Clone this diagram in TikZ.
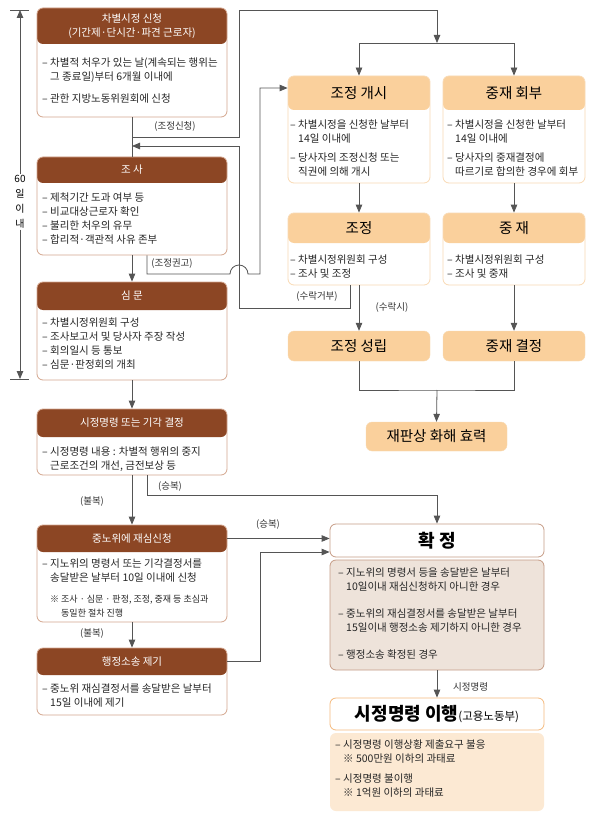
\documentclass[tikz,border=0pt]{standalone}
\usepackage{fontspec}
\setmainfont{Noto Sans CJK KR}
\usetikzlibrary{arrows.meta,calc}

\definecolor{hbrown}{RGB}{140,70,36}
\definecolor{bline}{RGB}{212,166,142}
\definecolor{ohead}{RGB}{250,208,156}
\definecolor{oline}{RGB}{249,218,180}
\definecolor{tanfill}{RGB}{238,227,218}
\definecolor{tanline}{RGB}{198,156,134}
\definecolor{iline}{RGB}{245,186,125}
\definecolor{ifill}{RGB}{252,233,211}
\definecolor{lgray}{RGB}{85,85,85}

\tikzset{
  conn/.style={draw=lgray, line width=0.8pt},
  arr/.style={conn, -{Triangle[length=8pt,width=6.5pt]}},
  bbox/.style={draw=bline, line width=0.8pt, fill=white, rounded corners=6pt,
    minimum width=190pt, inner sep=0pt,
    path picture={\fill[hbrown] (path picture bounding box.north west)
      rectangle ([yshift=-#1]path picture bounding box.north east);}},
  obox/.style={draw=oline, line width=0.8pt, fill=white, rounded corners=6pt,
    minimum width=142pt, inner sep=0pt,
    path picture={\fill[ohead] (path picture bounding box.north west)
      rectangle ([yshift=-#1]path picture bounding box.north east);}},
  ofull/.style={draw=oline, fill=ohead, rounded corners=6pt, minimum width=142pt,
    inner sep=0pt, font=\fontsize{14.5}{16}\selectfont},
  htxt/.style={text=white, align=center, font=\fontsize{10.5}{14.5}\selectfont},
  ohtxt/.style={font=\fontsize{14.5}{16}\selectfont},
  body/.style={anchor=north west, align=left, inner sep=0pt,
    font=\fontsize{10.5}{14}\selectfont, text=black!85},
  lbl/.style={font=\fontsize{9.5}{10}\selectfont, text=black!80, inner sep=1pt},
}

\begin{document}
\begin{tikzpicture}[x=1pt,y=-1pt]
\path[fill=white, use as bounding box] (0,0) rectangle (589,813);

% left column
\node[bbox=36pt, minimum height=109pt] (sin) at (132,62.5) {};
\node[htxt] (sinH) at (132,26) {차별시정 신청\\(기간제·단시간·파견 근로자)};
\node[body] (sinT) at (42,58) {– 차별적 처우가 있는 날(계속되는 행위는\\\phantom{– }그 종료일)부터 6개월 이내에\\[8pt]– 관한 지방노동위원회에 신청};

\node[bbox=26pt, minimum height=98pt] (josa) at (132,206) {};
\node[htxt] (josaH) at (132,170) {조 사};
\node[body] (josaT) at (42,193) {– 제척기간 도과 여부 등\\– 비교대상근로자 확인\\– 불리한 처우의 유무\\– 합리적·객관적 사유 존부};

\node[bbox=28pt, minimum height=98pt] (simmun) at (132,331) {};
\node[htxt] (simmunH) at (132,296) {심 문};
\node[body] (simmunT) at (42,318) {– 차별시정위원회 구성\\– 조사보고서 및 당사자 주장 작성\\– 회의일시 등 통보\\– 심문·판정회의 개최};

\node[bbox=28pt, minimum height=66pt] (gyeol) at (132,442) {};
\node[htxt] (gyeolH) at (132,423) {시정명령 또는 기각 결정};
\node[body] (gyeolT) at (42,447) {– 시정명령 내용 : 차별적 행위의 중지\\\phantom{– }근로조건의 개선, 금전보상 등};

\node[bbox=27pt, minimum height=97pt] (jaesim) at (132,573.5) {};
\node[htxt] (jaesimH) at (132,538.5) {중노위에 재심신청};
\node[body] (jaesimT) at (42,559) {– 지노위의 명령서 또는 기각결정서를\\\phantom{– }송달받은 날부터 10일 이내에 신청};
\node[body, font=\fontsize{9}{14}\selectfont] (jaesimN) at (50,594.5) {※ 조사 · 심문 · 판정, 조정, 중재 등 초심과\\\phantom{※ }동일한 절차 진행};

\node[bbox=27pt, minimum height=67pt] (sosong) at (132,681.5) {};
\node[htxt] (sosongH) at (132,661.5) {행정소송 제기};
\node[body] (sosongT) at (42,684) {– 중노위 재심결정서를 송달받은 날부터\\\phantom{– }15일 이내에 제기};

% 60 days
\coordinate (ltop) at (20,10);
\coordinate (lbot) at (20,379);
\draw[conn] (10,10) -- (29,10);
\draw[conn] (10,379) -- (29,379);
\node[font=\fontsize{10}{15}\selectfont, align=center, fill=white, inner sep=1pt] (sixty) at (20,202) {60\\일\\이\\내};
\draw[arr] (sixty.north) -- (ltop);
\draw[arr] (sixty.south) -- (lbot);

% right column
\node[obox=34pt, minimum height=107pt] (gaesi) at (359,129.5) {};
\node[ohtxt] (gaesiH) at (359,93) {조정 개시};
\node[body] (gaesiT) at (290,120) {– 차별시정을 신청한 날부터\\\phantom{– }14일 이내에\\[5pt]– 당사자의 조정신청 또는\\\phantom{– }직권에 의해 개시};

\node[obox=34pt, minimum height=107pt] (hoebu) at (514,129.5) {};
\node[ohtxt] (hoebuH) at (514,93) {중재 회부};
\node[body] (hoebuT) at (447,120) {– 차별시정을 신청한 날부터\\\phantom{– }14일 이내에\\[5pt]– 당사자의 중재결정에\\\phantom{– }따르기로 합의한 경우에 회부};

\node[obox=30pt, minimum height=72pt] (jojeong) at (359,249) {};
\node[ohtxt] (jojeongH) at (359,228) {조정};
\node[body] (jojeongT) at (290,255) {– 차별시정위원회 구성\\– 조사 및 조정};

\node[obox=30pt, minimum height=72pt] (jungjae) at (514,249) {};
\node[ohtxt] (jungjaeH) at (514,228) {중 재};
\node[body] (jungjaeT) at (447,255) {– 차별시정위원회 구성\\– 조사 및 중재};

\node[ofull, minimum height=30pt] (seongnip) at (359,346) {조정 성립};
\node[ofull, minimum height=30pt] (gyeolj) at (514,346) {중재 결정};
\node[ofull, minimum width=141pt, minimum height=29pt] (hyoryeok) at (436.5,436.5) {재판상 화해 효력};

% confirmation
\node[draw=tanline, line width=0.8pt, fill=white, rounded corners=6pt, minimum width=214pt, minimum height=33pt, font=\fontsize{18}{20}\selectfont\bfseries] (hwak) at (437,540.5) {확 정};
\node[draw=tanline, line width=0.8pt, fill=tanfill, rounded corners=6pt, minimum width=214pt, minimum height=110pt] (hwakD) at (437,615) {};
\node[body] (hwakT) at (338,568) {– 지노위의 명령서 등을 송달받은 날부터\\\phantom{– }10일이내 재심신청하지 아니한 경우\\[13pt]– 중노위의 재심결정서를 송달받은 날부터\\\phantom{– }15일이내 행정소송 제기하지 아니한 경우\\[13pt]– 행정소송 확정된 경우};

\node[draw=iline, line width=0.8pt, fill=white, rounded corners=6pt, minimum width=214pt, minimum height=32pt] (ihaeng) at (437,714) {{\fontsize{18}{20}\selectfont\bfseries 시정명령 이행}{\fontsize{11.5}{13}\selectfont (고용노동부)}};
\node[fill=ifill, rounded corners=6pt, minimum width=214pt, minimum height=78pt] (ihaengD) at (437,772) {};
\node[body] (ihaengT) at (335,740) {– 시정명령 이행상황 제출요구 불응\\\phantom{– }※ 500만원 이하의 과태료\\[6pt]– 시정명령 불이행\\\phantom{– }※ 1억원 이하의 과태료};

% connectors
\coordinate (fork) at (437,43);
\coordinate (merge) at (437,390);
\draw[conn] (sin.south) -- (josa.north);
\draw[arr] ([yshift=-20pt]sin.south) -| (239,10) -| (fork);
\draw[arr] (fork) -| (gaesi.north);
\draw[arr] (fork) -| (hoebu.north);
\node[lbl] at (175,126) {(조정신청)};

\draw[arr] ([xshift=-9pt]jojeong.south) |- (239,308) |- (sin.south |- 0,146);
\node[lbl] at (317,297) {(수락거부)};

\draw[arr] ([xshift=15pt]josa.south) |- (230,274) arc[start angle=180, end angle=0, radius=9pt] -- (260,274) |- (gaesi.west |- 0,88);
\node[lbl] at (172,264) {(조정권고)};

\draw[arr] (josa.south) -- (simmun.north);
\draw[arr] (simmun.south) -- (gyeol.north);
\draw[arr] (gyeol.south) -- (jaesim.north);
\node[lbl] at (92,502) {(불복)};
\draw[arr] (jaesim.south) -- (sosong.north);
\node[lbl] at (92,634) {(불복)};

\draw[arr] ([xshift=15pt]gyeol.south) -- ++(0,20) -| (hwak.north);
\node[lbl] at (170,487) {(승복)};
\draw[arr] (jaesim.east |- jaesimH) -- (hwak.west |- jaesimH);
\node[lbl] at (268,525) {(승복)};
\draw[arr] (sosong.east |- sosongH) -| (260,552) -- (hwak.west |- 0,552);

\draw[arr] (gaesi.south) -- (jojeong.north);
\draw[arr] (hoebu.south) -- (jungjae.north);
\draw[arr] (jojeong.south) -- (seongnip.north);
\node[lbl] at (392,308) {(수락시)};
\draw[arr] (jungjae.south) -- (gyeolj.north);
\draw[conn] (seongnip.south) |- (merge) -| (gyeolj.south);
\draw[arr] (merge) -- (hyoryeok.north);

\draw[arr] (hwakD.south) -- (ihaeng.north);
\node[lbl, anchor=west] at (452,687) {시정명령};
\end{tikzpicture}
\end{document}
